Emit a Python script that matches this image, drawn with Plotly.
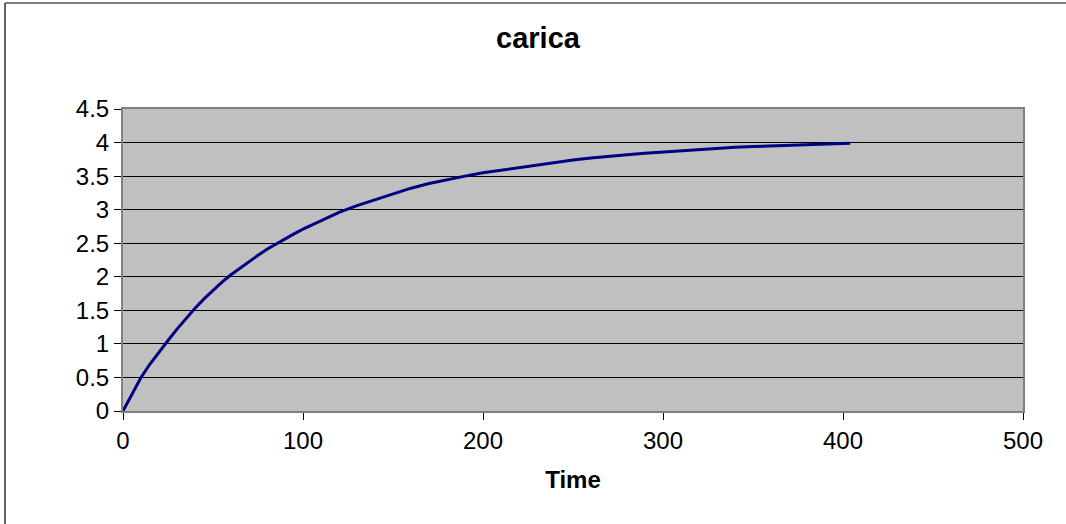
import plotly.graph_objects as go

# Data
time_s = [0, 5, 10, 15, 20, 25, 30, 35, 40, 45, 50, 55, 60, 65, 70, 75, 80, 85, 90, 95,
          100, 110, 120, 130, 140, 150, 160, 170, 180, 190, 200, 210, 220, 230, 240,
          250, 260, 270, 280, 290, 300, 310, 320, 330, 340, 350, 360, 370, 380, 390,
          400, 404]
carica = [0.00, 0.26, 0.50, 0.70, 0.88, 1.05, 1.22, 1.38, 1.53, 1.67, 1.80, 1.92, 2.03,
          2.13, 2.23, 2.32, 2.41, 2.49, 2.57, 2.64, 2.71, 2.84, 2.96, 3.06, 3.15, 3.24,
          3.32, 3.39, 3.45, 3.50, 3.55, 3.59, 3.63, 3.67, 3.71, 3.74, 3.77, 3.80, 3.82,
          3.84, 3.86, 3.88, 3.90, 3.91, 3.93, 3.94, 3.95, 3.96, 3.97, 3.98, 3.99, 3.99]
x_ticks = [0, 100, 200, 300, 400, 500]
y_ticks = [0, 0.5, 1, 1.5, 2, 2.5, 3, 3.5, 4, 4.5]

W, H = 1066, 524
ML, MR, MT, MB = 123, 43, 109, 113
PW = W - ML - MR
PH = H - MT - MB

FONT = "Liberation Sans, Arial, sans-serif"

fig = go.Figure()
fig.add_trace(go.Scatter(
    x=time_s, y=carica, mode="lines", name="carica",
    line=dict(color="#000080", width=3),
    showlegend=False,
))

fig.update_layout(
    width=W, height=H,
    margin=dict(l=ML, r=MR, t=MT, b=MB, pad=0),
    paper_bgcolor="white",
    plot_bgcolor="#C0C0C0",
    font=dict(family=FONT, size=24, color="black"),
    title=dict(
        text="<b>carica</b>",
        font=dict(family=FONT, size=29, color="black"),
        x=(538 - ML) / PW, xref="paper", xanchor="center",
        y=1 - 38 / H, yref="container", yanchor="middle",
    ),
    xaxis=dict(
        range=[0, 500], tickvals=x_ticks, ticktext=[str(v) for v in x_ticks],
        showgrid=False, zeroline=False,
        showline=True, linecolor="#808080", linewidth=2, mirror=True,
        ticks="outside", ticklen=7, tickcolor="#000000", tickwidth=1,
        tickfont=dict(family=FONT, size=24, color="black"),
        title=dict(text="<b>Time</b>", font=dict(family=FONT, size=24, color="black"),
                   standoff=18),
    ),
    yaxis=dict(
        range=[0, 4.5], tickvals=y_ticks, ticktext=[f"{v:g}" for v in y_ticks],
        showgrid=True, gridcolor="#000000", gridwidth=1, zeroline=False,
        showline=True, linecolor="#808080", linewidth=2, mirror=True,
        ticks="outside", ticklen=7, tickcolor="#000000", tickwidth=1,
        tickfont=dict(family=FONT, size=24, color="black"),
    ),
)

# Outer chart border: only the left and top edges are inside the window
y_top = (MT + PH - 3) / PH
y_bot = (MT + PH - (H + 10)) / PH
x_left = (5 - ML) / PW
x_right = (W + 10 - ML) / PW
fig.add_shape(type="line", xref="paper", yref="paper",
              x0=x_left, x1=x_right, y0=y_top, y1=y_top,
              line=dict(color="#808080", width=2), layer="below")
fig.add_shape(type="line", xref="paper", yref="paper",
              x0=x_left, x1=x_left, y0=y_top, y1=y_bot,
              line=dict(color="#303030", width=1.5), layer="below")

fig.write_html(
    "out.html",
    config={"displayModeBar": False},
    post_script="document.body.style.margin='0';document.body.style.overflow='hidden';",
)
